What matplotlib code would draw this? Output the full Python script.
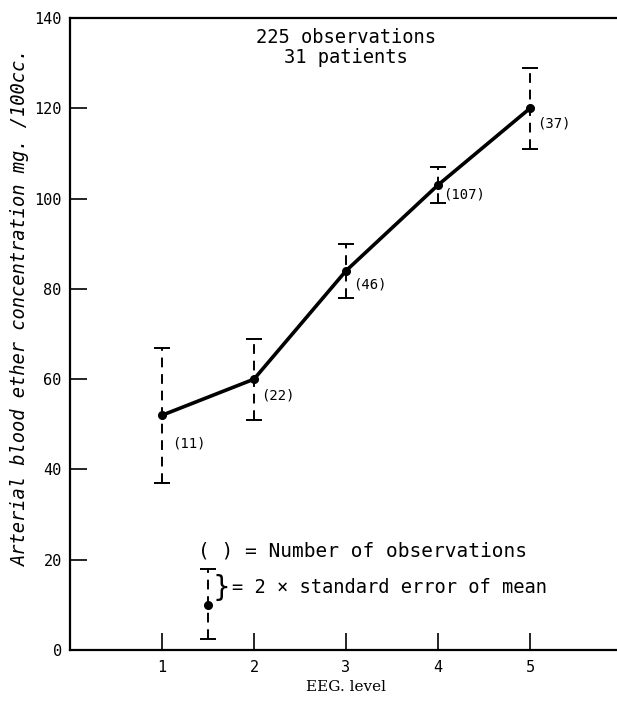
import matplotlib
matplotlib.use("Agg")
import matplotlib.pyplot as plt

# data
eeg_level = [1, 2, 3, 4, 5]
conc_mean = [52, 60, 84, 103, 120]
err_low = [37, 51, 78, 99, 111]
err_high = [67, 69, 90, 107, 129]
n_obs = ["(11)", "(22)", "(46)", "(107)", "(37)"]

# legend sample bar
key_x = [1.5]
key_mean = [10]
key_low = [2.5]
key_high = [18]

yticks = [0, 20, 40, 60, 80, 100, 120, 140]
xticks = [1, 2, 3, 4, 5]

plt.rcParams['font.family'] = ['DejaVu Sans Mono']

fig = plt.figure(figsize=(6.17, 7.04), dpi=100)
ax = fig.add_axes([70 / 617, 54 / 704, 552 / 617, 632 / 704])
ax.set_xlim(0, 6)
ax.set_ylim(0, 140)

ax.plot(eeg_level, conc_mean, color='black', lw=2.6, marker='o', ms=5.5, zorder=3)

def dashed_bars(x, mean, lo, hi):
    yerr = [[m - l for m, l in zip(mean, lo)], [h - m for m, h in zip(mean, hi)]]
    eb = ax.errorbar(x, mean, yerr=yerr, fmt='none', ecolor='black',
                     elinewidth=1.4, capsize=6, capthick=1.4, zorder=2)
    eb[2][0].set_linestyle((0, (5, 3.5)))
    return eb

dashed_bars(eeg_level, conc_mean, err_low, err_high)

# observation counts (offsets in points, below-right of each mean)
label_dx = [7, 5, 5, 4, 5]
label_dy = [-20, -12, -10, -7, -11]
for x, y, s, dx, dy in zip(eeg_level, conc_mean, n_obs, label_dx, label_dy):
    ax.annotate(s, (x, y), xytext=(dx, dy), textcoords='offset points',
                ha='left', va='center', fontsize=10)

# key
dashed_bars(key_x, key_mean, key_low, key_high)
ax.plot(key_x, key_mean, 'o', color='black', ms=5.5, zorder=3)
ax.text(1.39, 22, "( ) = Number of observations", fontsize=14,
        ha='left', va='center')
ax.text(1.55, 13.8, "}", fontsize=20, family='DejaVu Sans',
        ha='left', va='center')
ax.text(1.76, 13.8, "= 2 \u00d7 standard error of mean", fontsize=13.5,
        ha='left', va='center')

ax.text(3.0, 133.5, "225 observations\n31 patients", fontsize=13.5,
        ha='center', va='center', linespacing=1.1)

ax.set_xticks(xticks)
ax.set_yticks(yticks)
ax.tick_params(axis='both', direction='in', length=12, width=1.2, labelsize=11)
ax.tick_params(axis='x', pad=7)
ax.tick_params(axis='y', pad=6)
for side in ['left', 'bottom', 'top']:
    ax.spines[side].set_linewidth(1.6)
ax.spines['right'].set_visible(False)

ax.set_xlabel("EEG. level", fontsize=11, family='DejaVu Serif', labelpad=4)
ax.set_ylabel("Arterial blood ether concentration mg. /100cc.", fontsize=13.5,
              style='italic')
ax.yaxis.set_label_coords(-0.072, 0.543)

fig.savefig("out.png", dpi=100, facecolor='white')
